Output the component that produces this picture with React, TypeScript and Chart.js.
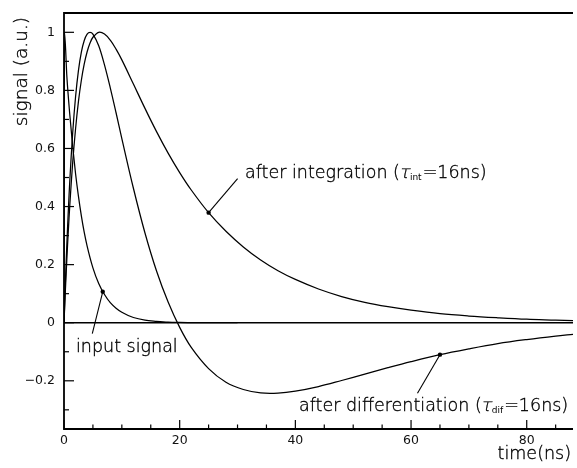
import { useEffect, useRef } from 'react';
import { Chart, registerables } from 'chart.js';

Chart.register(...registerables);

// Sample times (ns) for the shaped pulses
const TIME_NS = [0, 0.25, 0.5, 0.75, 1, 1.5, 2, 2.5, 3, 3.5, 4, 4.5, 5, 6, 7, 8, 9, 10, 12, 14, 16, 18, 20, 22, 25, 28, 31, 34, 37, 40, 44, 48, 52, 56, 60, 65, 70, 75, 80, 85, 88];

// Pulse after the RC integrator (tau_int = 16 ns)
const INTEGRATED = [0, 0.117, 0.222, 0.318, 0.404, 0.551, 0.668, 0.762, 0.835, 0.891, 0.933, 0.963, 0.983, 1.0, 0.994, 0.973, 0.942, 0.905, 0.822, 0.738, 0.658, 0.584, 0.517, 0.457, 0.379, 0.315, 0.261, 0.216, 0.179, 0.149, 0.116, 0.09, 0.07, 0.055, 0.043, 0.031, 0.023, 0.017, 0.012, 0.009, 0.007];

// Pulse after the CR differentiator (tau_dif = 16 ns)
const DIFFERENTIATED = [0, 0.145, 0.273, 0.387, 0.488, 0.653, 0.778, 0.869, 0.932, 0.972, 0.994, 1.0, 0.994, 0.954, 0.888, 0.809, 0.723, 0.634, 0.463, 0.309, 0.178, 0.071, -0.016, -0.085, -0.158, -0.205, -0.23, -0.2417, -0.2424, -0.2357, -0.22, -0.199, -0.177, -0.155, -0.134, -0.11, -0.09, -0.072, -0.058, -0.046, -0.04];

// Raw detector pulse
const INPUT_TIME_NS = [0, 0.08, 0.5, 1, 1.5, 2, 2.5, 3, 3.5, 4, 5, 6, 7, 8, 9, 10, 12, 14, 16, 18, 20, 25, 30];
const INPUT_SIGNAL = [0, 1.0, 0.846, 0.717, 0.607, 0.513, 0.435, 0.368, 0.311, 0.264, 0.189, 0.135, 0.097, 0.069, 0.05, 0.036, 0.018, 0.009, 0.005, 0.002, 0.001, 0, 0];

// Points picked out by the labels
const INPUT_MARK = { x: 6.7, y: 0.107 };
const INT_MARK = { x: 25, y: 0.379 };
const DIFF_MARK = { x: 65, y: -0.11 };

// Axis ticks
const X_MAJOR = [0, 20, 40, 60, 80];
const X_LABELS = ['0', '20', '40', '60', '80'];
const Y_MAJOR = [-0.2, 0, 0.2, 0.4, 0.6, 0.8, 1];
const Y_LABELS = ['\u22120.2', '0', '0.2', '0.4', '0.6', '0.8', '1'];

const FONT = '"DejaVu Sans", sans-serif';
const TEXT = '200 17.5px ' + FONT;

const toXY = (xs: number[], ys: number[]) => xs.map((x, i) => ({ x, y: ys[i] }));

// thin text, filled and lightly outlined so the strokes stay dark
const thinText = (ctx: CanvasRenderingContext2D, s: string, x: number, y: number) => {
  ctx.fillText(s, x, y);
  ctx.lineWidth = 0.35;
  ctx.strokeText(s, x, y);
};

const axesPlugin = {
  id: 'frameAndNotes',
  beforeDatasetsDraw(chart: any) {
    const { ctx, chartArea: a, scales } = chart;
    const y0 = scales.y.getPixelForValue(0);
    ctx.save();
    ctx.strokeStyle = '#000';
    ctx.lineWidth = 1.5;
    ctx.beginPath();
    ctx.moveTo(a.left, y0);
    ctx.lineTo(a.right, y0);
    ctx.stroke();
    ctx.restore();
  },
  afterDatasetsDraw(chart: any) {
    const { ctx, chartArea: a, scales } = chart;
    const xs = scales.x;
    const ys = scales.y;
    ctx.save();
    ctx.strokeStyle = '#000';
    ctx.fillStyle = '#000';

    // frame
    ctx.lineWidth = 1.8;
    ctx.beginPath();
    ctx.moveTo(a.right, a.top);
    ctx.lineTo(a.left, a.top);
    ctx.lineTo(a.left, a.bottom);
    ctx.lineTo(a.right, a.bottom);
    ctx.stroke();

    // x ticks (inward)
    ctx.lineWidth = 1.2;
    for (let t = 0; t <= xs.max; t += 5) {
      const px = xs.getPixelForValue(t);
      const len = t % 20 === 0 ? 9 : 4.5;
      ctx.beginPath();
      ctx.moveTo(px, a.bottom);
      ctx.lineTo(px, a.bottom - len);
      ctx.stroke();
    }
    // y ticks (inward)
    for (let k = -3; k <= 10; k++) {
      const v = k / 10;
      const py = ys.getPixelForValue(v);
      const len = k % 2 === 0 ? 10 : 5;
      ctx.beginPath();
      ctx.moveTo(a.left, py);
      ctx.lineTo(a.left + len, py);
      ctx.stroke();
    }

    // tick labels
    ctx.fillStyle = '#111';
    ctx.font = `12.5px ${FONT}`;
    ctx.textAlign = 'center';
    ctx.textBaseline = 'middle';
    X_MAJOR.forEach((t, i) => ctx.fillText(X_LABELS[i], xs.getPixelForValue(t), a.bottom + 12));
    ctx.textAlign = 'right';
    Y_MAJOR.forEach((v, i) => ctx.fillText(Y_LABELS[i], a.left - 9, ys.getPixelForValue(v)));
    ctx.fillStyle = '#000';

    // axis titles
    ctx.font = TEXT;
    ctx.textAlign = 'right';
    ctx.textBaseline = 'alphabetic';
    thinText(ctx, 'time(ns)', 571, 459);
    ctx.save();
    ctx.translate(27, 17);
    ctx.rotate(-Math.PI / 2);
    ctx.textAlign = 'right';
    ctx.font = '200 18.5px ' + FONT;
    thinText(ctx, 'signal (a.u.)', 0, 0);
    ctx.restore();

    // leader lines
    const leader = (m: { x: number; y: number }, dx: number, dy: number) => {
      const px = xs.getPixelForValue(m.x);
      const py = ys.getPixelForValue(m.y);
      ctx.lineWidth = 1.1;
      ctx.beginPath();
      ctx.moveTo(px, py);
      ctx.lineTo(px + dx, py + dy);
      ctx.stroke();
    };
    leader(INPUT_MARK, -10.5, 42);
    leader(INT_MARK, 29, -34);
    leader(DIFF_MARK, -22.5, 38.5);

    // labels
    ctx.textAlign = 'left';
    ctx.textBaseline = 'alphabetic';
    ctx.font = TEXT;
    thinText(ctx, 'input signal', 76, 352);

    const tauLabel = (pre: string, sub: string, post: string, x: number, y: number) => {
      ctx.font = TEXT;
      thinText(ctx, pre, x, y);
      let cx = x + ctx.measureText(pre).width;
      // slanted tau
      ctx.save();
      ctx.translate(cx - 1, y);
      ctx.transform(1, 0, -0.22, 1, 0, 0);
      thinText(ctx, '\u03c4', 0, 0);
      ctx.restore();
      cx += ctx.measureText('\u03c4').width - 0.5;
      ctx.font = `9px ${FONT}`;
      ctx.fillText(sub, cx, y + 2);
      cx += ctx.measureText(sub).width + 1;
      ctx.font = TEXT;
      thinText(ctx, post, cx, y);
    };
    tauLabel('after integration (', 'int', '=16ns)', 245, 178);
    tauLabel('after differentiation (', 'dif', '=16ns)', 299, 411);

    ctx.restore();
  },
};

export default function App() {
  const canvasRef = useRef<HTMLCanvasElement | null>(null);

  useEffect(() => {
    document.body.style.margin = '0';
    const canvas = canvasRef.current;
    if (!canvas) return;
    const line = (data: { x: number; y: number }[], monotone: boolean) => ({
      data,
      borderColor: '#000',
      borderWidth: 1.25,
      pointRadius: 0,
      fill: false,
      tension: 0.35,
      cubicInterpolationMode: monotone ? ('monotone' as const) : ('default' as const),
    });
    const mark = (m: { x: number; y: number }) => ({
      data: [m],
      showLine: false,
      pointRadius: 2.2,
      pointBackgroundColor: '#000',
      pointBorderWidth: 0,
      borderColor: '#000',
    });
    const chart = new Chart(canvas, {
      type: 'line',
      data: {
        datasets: [
          line(toXY(INPUT_TIME_NS, INPUT_SIGNAL), true),
          line(toXY(TIME_NS, INTEGRATED), false),
          line(toXY(TIME_NS, DIFFERENTIATED), false),
          mark(INPUT_MARK),
          mark(INT_MARK),
          mark(DIFF_MARK),
        ] as any,
      },
      options: {
        animation: false,
        responsive: false,
        devicePixelRatio: 1,
        layout: { padding: { left: 64, top: 13, right: 0, bottom: 39 } },
        plugins: { legend: { display: false }, tooltip: { enabled: false } },
        scales: {
          x: { type: 'linear', min: 0, max: 88, display: false },
          y: { type: 'linear', min: -0.366, max: 1.0665, display: false },
        },
      },
      plugins: [axesPlugin],
    });
    return () => chart.destroy();
  }, []);

  return <canvas ref={canvasRef} width={577} height={468} style={{ display: 'block' }} />;
}
